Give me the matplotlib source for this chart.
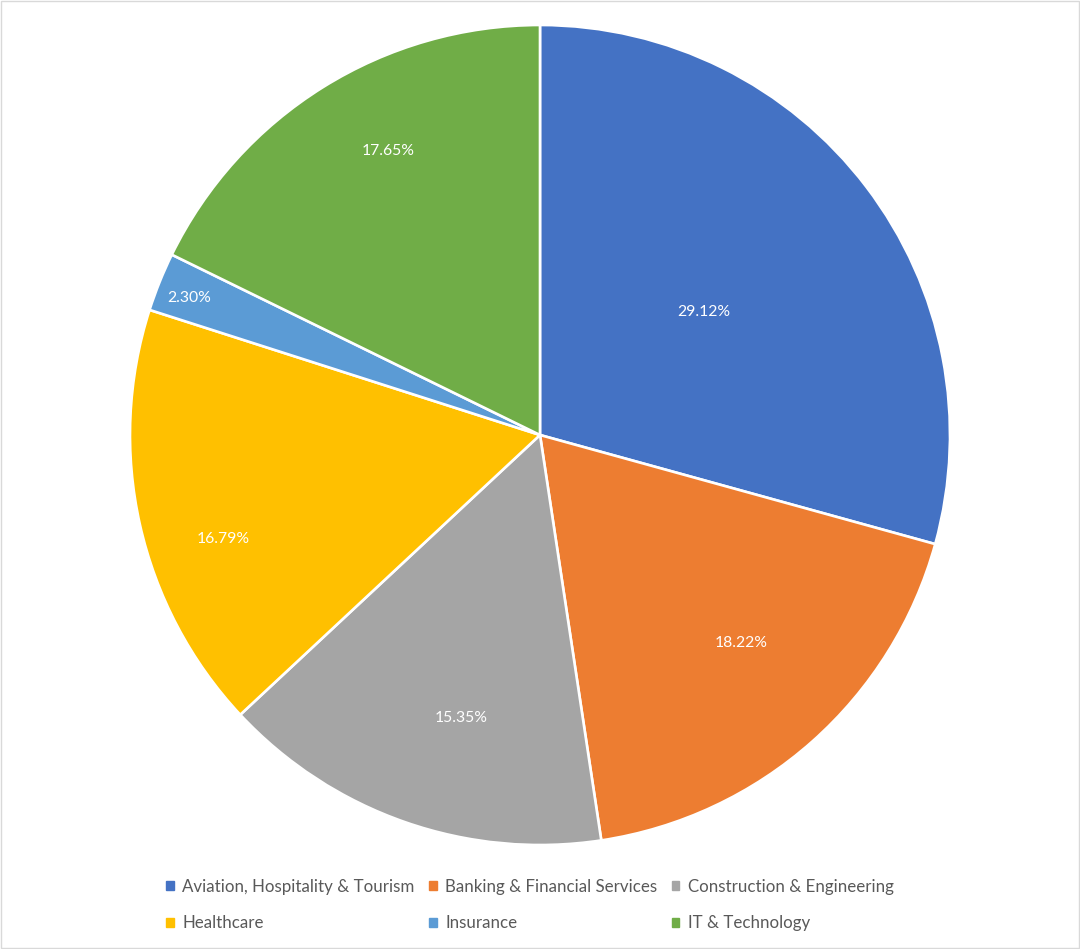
import numpy as np
import matplotlib

matplotlib.use("Agg")
import matplotlib.pyplot as plt  # noqa: E402
from matplotlib.patches import Rectangle  # noqa: E402

plt.rcParams["font.family"] = ["Lato", "DejaVu Sans"]

categories = [
    "Aviation, Hospitality & Tourism",
    "Banking & Financial Services",
    "Construction & Engineering",
    "Healthcare",
    "Insurance",
    "IT & Technology",
]
shares = [29.12, 18.22, 15.35, 16.79, 2.30, 17.65]
colors = ["#4472C4", "#ED7D31", "#A5A5A5", "#FFC000", "#5B9BD5", "#70AD47"]
# label placement: fraction of radius, angular nudge (deg) from wedge middle
label_dist = [0.50, 0.705, 0.717, 0.814, 0.919, 0.786]
label_nudge = [-0.4, 2.4, 3.6, 5.5, 0.6, -3.8]

fig = plt.figure(figsize=(10.8, 9.49), dpi=100)
ax = fig.add_axes([130 / 1080, 104 / 949, 820 / 1080, 820 / 949])

wedges, _ = ax.pie(
    shares,
    colors=colors,
    startangle=90,
    counterclock=False,
    wedgeprops=dict(edgecolor="white", linewidth=1.9),
)
ax.set_xlim(-1, 1)
ax.set_ylim(-1, 1)
ax.set_aspect("equal")
ax.axis("off")

for w, val, d, nud in zip(wedges, shares, label_dist, label_nudge):
    mid = np.deg2rad((w.theta1 + w.theta2) / 2 + nud)
    ax.text(d * np.cos(mid), d * np.sin(mid), f"{val:.2f}%",
            ha="center", va="center", color="white", fontsize=11.3)

# legend fills column by column, so reorder to get row-wise layout
order = [0, 3, 1, 4, 2, 5]
handles = [Rectangle((0, 0), 1, 1, color=colors[i]) for i in order]
fig.legend(handles, [categories[i] for i in order], ncol=3, loc="center",
           bbox_to_anchor=(530 / 1080, 1 - 905 / 949),
           frameon=False, fontsize=12.2, labelcolor="#595959",
           handlelength=0.45, handleheight=0.45, handletextpad=0.5,
           columnspacing=0.85, labelspacing=1.2)

# light chart-area border
fig.patches.append(Rectangle((0.001, 0.001), 0.998, 0.998, transform=fig.transFigure,
                             fill=False, edgecolor="#D9D9D9", linewidth=1))

fig.savefig("out.png", dpi=100)
plt.close(fig)
